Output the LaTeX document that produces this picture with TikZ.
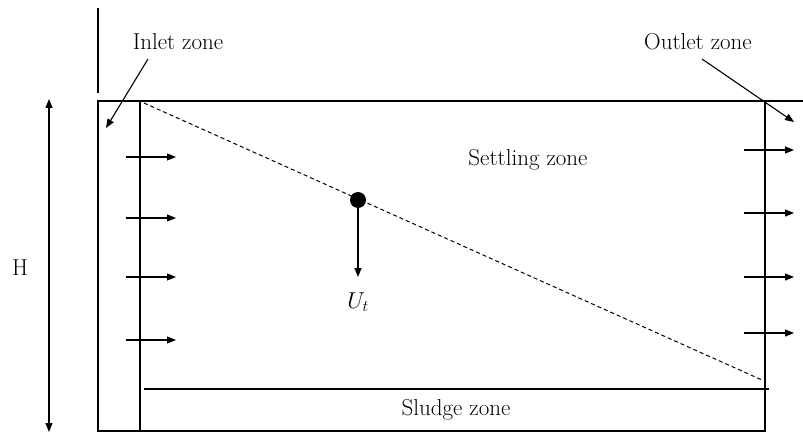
\RequirePackage{fix-cm}
\documentclass[tikz,border=0pt]{standalone}
\usepackage{fontspec}
\usetikzlibrary{arrows.meta,positioning,calc}
\begin{document}
\begin{tikzpicture}[x=1pt,y=-1pt,>={Triangle[length=9pt,width=7pt]},
 font=\fontsize{23}{27}\selectfont,
 wall/.style={line width=1.8pt},
 lin/.style={line width=1.3pt},
 fl/.style={->,line width=1.1pt},
 lbl/.style={inner sep=0pt}]
\useasboundingbox (0,0) rectangle (803,433);
% tank outline
\coordinate (tl) at (98,101); \coordinate (bl) at (98,431);
\coordinate (tr) at (803,101); \coordinate (br) at (766,431);
\coordinate (it) at (140,101); \coordinate (ib) at (140,431);
\coordinate (ot) at (765,101); \coordinate (ob) at (765,431);
\coordinate (wt) at (98,8); \coordinate (wb) at (98,93);
\draw[wall] (tr)--(tl)--(bl)--(br);
\draw[wall] (wt)--(wb);
\draw[lin] (it)--(ib);
\draw[lin] (ot)--(ob);
\coordinate (sl) at (144,389); \coordinate (sr) at (769,389);
\draw[lin] (sl)--(sr);
\coordinate (ds) at (144,103); \coordinate (de) at (762,380);
\draw[line width=1pt,dash pattern=on 4pt off 3pt] (ds)--(de);
% height
\coordinate (ht) at (49,99); \coordinate (hb) at (49,432);
\draw[<->,line width=1.3pt] (ht)--(hb);
\node[lbl] (h) at (20,268) {H};
% inlet flow
\coordinate (i1a) at (126,157); \coordinate (i1b) at (176,157);
\coordinate (i2a) at (126,218); \coordinate (i2b) at (176,218);
\coordinate (i3a) at (126,277); \coordinate (i3b) at (176,277);
\coordinate (i4a) at (126,340); \coordinate (i4b) at (176,340);
\draw[fl] (i1a)--(i1b); \draw[fl] (i2a)--(i2b);
\draw[fl] (i3a)--(i3b); \draw[fl] (i4a)--(i4b);
% outlet flow
\coordinate (o1a) at (744,150); \coordinate (o1b) at (794,150);
\coordinate (o2a) at (744,213); \coordinate (o2b) at (794,213);
\coordinate (o3a) at (744,277); \coordinate (o3b) at (794,277);
\coordinate (o4a) at (744,333); \coordinate (o4b) at (794,333);
\draw[fl] (o1a)--(o1b); \draw[fl] (o2a)--(o2b);
\draw[fl] (o3a)--(o3b); \draw[fl] (o4a)--(o4b);
% zone labels
\node[lbl] (inl) at (178,42) {Inlet zone};
\node[lbl] (outl) at (698,42) {Outlet zone};
\node[lbl] (set) at (528,160) {Settling zone};
\node[lbl] (slu) at (456,410) {Sludge zone};
\coordinate (is) at (148,59); \coordinate (ip) at (106,128);
\coordinate (os) at (702,59); \coordinate (op) at (794,122);
\draw[fl] (is)--(ip);
\draw[fl] (os)--(op);
% particle
\node[circle,fill=black,minimum size=16pt,inner sep=0pt] (p) at (358,200) {};
\coordinate (pe) at (358,277);
\draw[fl] (p)--(pe);
\node[lbl] (ut) at (358,302) {$U_t$};
\end{tikzpicture}
\end{document}
